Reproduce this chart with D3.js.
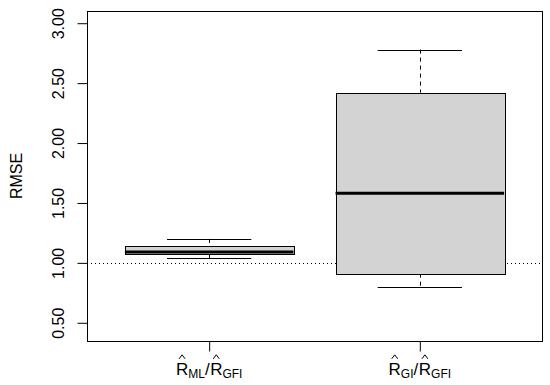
<!DOCTYPE html>
<html>
<head>
<meta charset="utf-8">
<script src="https://cdn.jsdelivr.net/npm/d3@7"></script>
<style>
  body { margin: 0; background: #fff; }
  text { font-family: "Liberation Sans", Arial, Helvetica, sans-serif; fill: #000; }
</style>
</head>
<body>
<div id="chart"></div>
<script>
// box statistics, one value per group
const groups = [1, 2];
const labelParts = [
  [{ t: 'R', hat: true }, { t: 'ML', sub: true }, { t: '/' }, { t: 'R', hat: true }, { t: 'GFI', sub: true }],
  [{ t: 'R', hat: true }, { t: 'GI', sub: true }, { t: '/' }, { t: 'R', hat: true }, { t: 'GFI', sub: true }]
];
const whiskerHigh = [1.20, 2.78];
const upperQuart = [1.14, 2.42];
const medians = [1.09, 1.58];
const lowerQuart = [1.07, 0.91];
const whiskerLow = [1.04, 0.80];
const yTicks = [0.5, 1.0, 1.5, 2.0, 2.5, 3.0];
const refLine = 1.0;
const ylim = [0.45, 3.0];

const width = 550;
const height = 385;
const margin = { top: 11, right: 8, bottom: 44, left: 87 };

const svg = d3.select('#chart')
  .append('svg')
    .attr('width', width)
    .attr('height', height);

// R style 4% padding on the axis ranges
const yPad = (ylim[1] - ylim[0]) * 0.04;
const y = d3.scaleLinear()
  .domain([ylim[0] - yPad, ylim[1] + yPad])
  .range([height - margin.bottom, margin.top]);
const x = d3.scaleLinear()
  .domain([0.42, 2.58])
  .range([margin.left, width - margin.right]);

const boxW = 0.8;
const stapleW = 0.4;
const px = v => Math.round(v) + 0.5;

const data = groups.map((g, i) => ({
  g: g,
  hi: whiskerHigh[i],
  q3: upperQuart[i],
  med: medians[i],
  q1: lowerQuart[i],
  lo: whiskerLow[i]
}));

// reference line at 1
svg.append('line')
  .attr('x1', x.range()[0]).attr('x2', x.range()[1])
  .attr('y1', px(y(refLine))).attr('y2', px(y(refLine)))
  .attr('stroke', '#000')
  .attr('stroke-dasharray', '1,3');

const boxes = svg.selectAll('.box')
  .data(data)
  .join('g')
    .attr('class', 'box');

// dashed whiskers
boxes.append('line')
  .attr('x1', d => px(x(d.g))).attr('x2', d => px(x(d.g)))
  .attr('y1', d => y(d.hi)).attr('y2', d => y(d.q3))
  .attr('stroke', '#000')
  .attr('stroke-dasharray', '4,4');
boxes.append('line')
  .attr('x1', d => px(x(d.g))).attr('x2', d => px(x(d.g)))
  .attr('y1', d => y(d.q1)).attr('y2', d => y(d.lo))
  .attr('stroke', '#000')
  .attr('stroke-dasharray', '4,4');

// staples
boxes.selectAll('.staple')
  .data(d => [{ g: d.g, v: d.hi }, { g: d.g, v: d.lo }])
  .join('line')
    .attr('x1', d => x(d.g - stapleW / 2)).attr('x2', d => x(d.g + stapleW / 2))
    .attr('y1', d => px(y(d.v))).attr('y2', d => px(y(d.v)))
    .attr('stroke', '#000');

// box body
boxes.append('rect')
  .attr('x', d => px(x(d.g - boxW / 2)))
  .attr('y', d => px(y(d.q3)))
  .attr('width', d => Math.round(x(d.g + boxW / 2) - x(d.g - boxW / 2)))
  .attr('height', d => Math.round(y(d.q1) - y(d.q3)))
  .attr('fill', '#d3d3d3')
  .attr('stroke', '#000');

// median
boxes.append('line')
  .attr('x1', d => x(d.g - boxW / 2)).attr('x2', d => x(d.g + boxW / 2))
  .attr('y1', d => y(d.med)).attr('y2', d => y(d.med))
  .attr('stroke', '#000')
  .attr('stroke-width', 3);

// plot frame
svg.append('rect')
  .attr('x', px(x.range()[0]))
  .attr('y', px(y.range()[1]))
  .attr('width', Math.round(x.range()[1] - x.range()[0]))
  .attr('height', Math.round(y.range()[0] - y.range()[1]))
  .attr('fill', 'none')
  .attr('stroke', '#000');

// y axis, labels turned like R's las = 0
const yAxis = svg.append('g')
  .attr('transform', `translate(${px(x.range()[0])},0)`)
  .call(d3.axisLeft(y).tickValues(yTicks).tickSize(10).tickFormat(d3.format('.2f')));
yAxis.select('.domain').remove();
yAxis.selectAll('line').attr('stroke', '#000');
yAxis.selectAll('text')
  .attr('x', null).attr('dy', null)
  .attr('transform', 'translate(-24,0) rotate(-90)')
  .attr('text-anchor', 'middle')
  .style('font-size', '16px')
  .style('font-family', '"Liberation Sans", Arial, sans-serif');

svg.append('text')
  .attr('transform', `translate(22,${(y.range()[0] + y.range()[1]) / 2}) rotate(-90)`)
  .attr('text-anchor', 'middle')
  .style('font-size', '16px')
  .text('RMSE');

// x axis ticks
const xAxis = svg.append('g')
  .attr('transform', `translate(0,${px(y.range()[0])})`)
  .call(d3.axisBottom(x).tickValues(groups).tickSize(10).tickFormat(''));
xAxis.select('.domain').remove();
xAxis.selectAll('line').attr('stroke', '#000');

// x labels with hats and subscripts
const mainSize = 17;
const subSize = 12;
const baseY = 375;
labelParts.forEach((parts, i) => {
  const g = svg.append('g');
  let cursor = 0;
  parts.forEach(p => {
    const t = g.append('text')
      .attr('x', cursor)
      .attr('y', p.sub ? baseY + 3 : baseY)
      .style('font-size', (p.sub ? subSize : mainSize) + 'px')
      .text(p.t);
    const w = t.node().getComputedTextLength();
    if (p.hat) {
      const cx = cursor + w / 2;
      const top = baseY - mainSize * 0.716 - 8;
      g.append('path')
        .attr('d', `M${cx - 3},${top + 4}L${cx},${top}L${cx + 3},${top + 4}`)
        .attr('fill', 'none')
        .attr('stroke', '#000')
        .attr('stroke-width', 1);
    }
    cursor += w + (p.t === '/' ? 0.5 : 0);
  });
  g.attr('transform', `translate(${x(groups[i]) - cursor / 2},0)`);
});
</script>
</body>
</html>
